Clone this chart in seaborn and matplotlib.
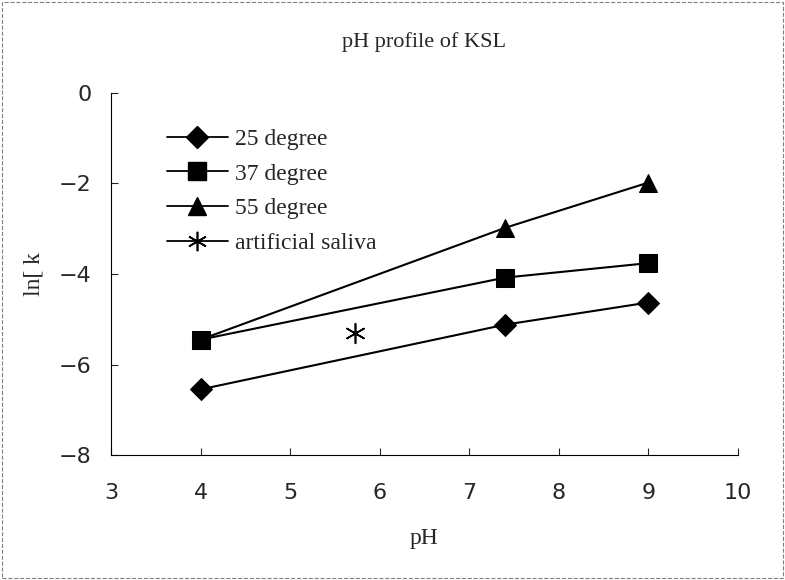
import matplotlib
matplotlib.use('Agg')
import matplotlib.pyplot as plt
from matplotlib.lines import Line2D
from matplotlib.patches import Rectangle
import seaborn as sns
import pandas as pd

# data
ph = [4, 7.4, 9]
lnk_25 = [-6.55, -5.12, -4.63]
lnk_37 = [-5.45, -4.08, -3.76]
lnk_55 = [-5.45, -2.98, -1.98]
saliva_ph = [5.72]
saliva_lnk = [-5.3]

series_names = ['25 degree', '37 degree', '55 degree']
series_values = [lnk_25, lnk_37, lnk_55]
markers = ['D', 's', '^']
msizes = [11, 12.5, 13]

sns.set_style('white')
text_font = ['Liberation Serif', 'DejaVu Serif']
tick_font = ['DejaVu Sans']

fig = plt.figure(figsize=(7.85, 5.8), dpi=100)
ax = fig.add_axes([0.1414, 0.2155, 0.7986, 0.6242])

handles = []
for name, vals, m, ms in zip(series_names, series_values, markers, msizes):
    df = pd.DataFrame({'pH': ph, 'lnk': vals})
    sns.lineplot(data=df, x='pH', y='lnk', ax=ax, color='black', lw=1.5,
                 marker=m, markersize=ms, markeredgecolor='black')
    handles.append(Line2D([], [], color='black', lw=1.3, marker=m, markersize=ms))

sal = pd.DataFrame({'pH': saliva_ph, 'lnk': saliva_lnk})
sns.scatterplot(data=sal, x='pH', y='lnk', ax=ax, marker=(6, 2, 0), s=200,
                color='black', linewidth=1.2)
handles.append(Line2D([], [], color='black', lw=1.3, marker=(6, 2, 0), markersize=14,
                      markeredgewidth=1.2))

ax.set_xlim(3, 10)
ax.set_ylim(-8, 0)
ax.set_xticks(range(3, 11))
ax.set_yticks([-8, -6, -4, -2, 0])
ax.tick_params(direction='in', length=5, width=0.8, labelsize=16,
               left=True, bottom=True)
ax.tick_params(axis='x', pad=20)
ax.tick_params(axis='y', pad=14)
for lab in ax.get_xticklabels() + ax.get_yticklabels():
    lab.set_family(tick_font)
for s in ['top', 'right']:
    ax.spines[s].set_visible(False)
for s in ['left', 'bottom']:
    ax.spines[s].set_color('black')
    ax.spines[s].set_linewidth(0.8)

ax.set_xlabel('pH', family=text_font, fontsize=17, labelpad=18)
ax.set_ylabel('ln[ k', family=text_font, fontsize=17, labelpad=10)
ax.set_title('pH profile of KSL', family=text_font, fontsize=16, pad=33)

ax.legend(handles, ['25 degree', '37 degree', '55 degree', 'artificial saliva'],
          loc='upper left', bbox_to_anchor=(0.055, 0.96), frameon=False,
          prop={'family': text_font, 'size': 17}, handlelength=2.6,
          labelspacing=0.55, handletextpad=0.3)

fig.patches.append(Rectangle((0.003, 0.003), 0.994, 0.994, transform=fig.transFigure,
                             fill=False, edgecolor='gray', lw=0.8, ls='--'))

plt.savefig('out.png', dpi=100)
